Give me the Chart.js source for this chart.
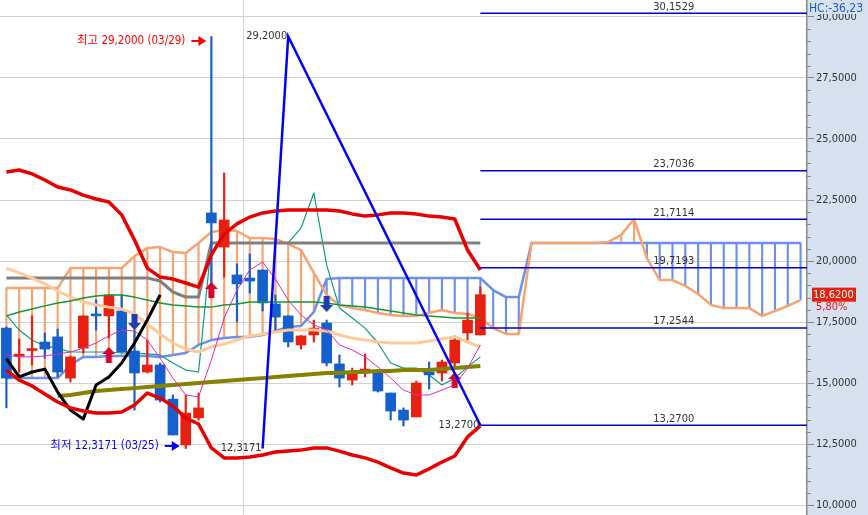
<!DOCTYPE html>
<html><head><meta charset="utf-8">
<script src="https://cdn.jsdelivr.net/npm/chart.js@4.4.1/dist/chart.umd.min.js"></script>
<style>html,body{margin:0;padding:0;background:#fff;overflow:hidden}canvas{display:block}</style>
</head><body>
<canvas id="c" width="868" height="515"></canvas>
<script>
const FONT = "'Liberation Sans Narrow','DejaVu Sans Condensed','Noto Sans CJK KR',sans-serif";

// ---- price candles (index 0..37) ----
const opens  = [17.25,16.10,16.33,16.68,16.89,15.20,16.43,17.77,17.75,17.95,16.31,15.45,15.74,14.34,12.46,13.57,21.97,20.57,19.43,19.30,19.63,18.24,17.75,16.56,16.97,17.46,15.78,15.12,15.45,15.53,14.59,13.89,13.61,15.45,15.41,15.82,17.05,16.97];
const highs  = [17.30,16.80,17.75,17.05,17.21,16.10,17.75,18.40,18.61,18.61,17.17,16.76,15.82,14.51,14.51,14.59,29.20,23.61,19.88,20.29,19.63,18.61,17.75,16.95,17.58,17.58,16.15,15.61,16.19,15.53,14.59,13.98,15.08,15.86,15.94,16.93,17.87,18.93];
const lows   = [13.98,15.45,15.74,16.02,15.25,15.04,16.23,17.17,16.84,16.27,13.89,15.41,14.22,12.87,12.3171,13.48,18.90,19.34,17.50,18.69,17.95,17.17,16.48,16.39,16.68,15.70,14.84,14.92,15.25,14.63,13.48,13.24,13.61,14.75,15.08,15.61,16.76,16.97];
const closes = [15.20,16.13,16.40,16.39,15.45,16.07,17.75,17.75,18.61,16.27,15.41,15.74,14.30,12.87,13.77,13.98,21.56,21.68,19.06,19.18,18.28,17.70,16.68,16.93,17.25,15.82,15.20,15.41,15.57,14.67,13.85,13.48,15.00,15.33,15.86,16.76,17.58,18.62];

// ---- Bollinger bands ----
const bbUpper = [23.65,23.73,23.57,23.32,23.03,22.91,22.70,22.54,22.42,21.89,20.86,19.71,19.34,19.26,19.10,18.93,20.25,21.11,21.52,21.80,21.97,22.05,22.09,22.09,22.09,22.09,22.05,21.93,21.84,21.89,21.97,21.97,21.93,21.84,21.80,21.72,20.45,19.63];
const bbLower = [15.53,15.12,14.88,14.55,14.22,13.98,13.85,13.77,13.77,13.81,14.10,14.59,14.38,14.06,13.57,13.32,12.34,11.93,11.93,11.97,12.05,12.17,12.21,12.25,12.34,12.34,12.21,12.05,11.93,11.76,11.52,11.31,11.23,11.48,11.76,12.01,12.79,13.24];

// ---- Ichimoku ----
const baseLine = [19.30,19.30,19.30,19.30,19.30,19.30,19.30,19.30,19.30,19.30,19.30,19.30,19.18,18.73,18.52,18.52,20.74,20.74,20.74,20.74,20.74,20.74,20.74,20.74,20.74,20.74,20.74,20.74,20.74,20.74,20.74,20.74,20.74,20.74,20.74,20.74,20.74,20.74];
const convLine = [17.79,17.17,16.76,16.52,16.43,16.27,16.27,16.27,16.27,16.23,16.23,16.19,16.15,15.82,15.53,15.45,20.74,20.74,20.74,20.74,20.74,20.74,20.74,21.35,22.79,19.84,18.07,17.66,17.25,16.64,15.82,15.61,15.61,15.33,14.92,15.20,15.66,16.07];
const spanA = [18.89,18.89,18.89,18.89,18.89,19.71,19.71,19.71,19.71,19.71,20.20,20.53,20.57,20.37,20.33,20.74,21.19,21.27,21.23,20.94,20.94,20.90,20.70,20.45,19.51,18.61,18.20,18.07,17.99,17.87,17.79,17.75,17.75,17.87,17.99,17.87,17.83,17.66,17.25,17.01,17.01,20.74,20.74,20.74,20.74,20.74,20.74,20.78,21.07,21.72,20.12,19.22,19.22,18.98,18.65,18.20,18.07,18.07,18.07,17.75,17.95,18.16,18.40];
const spanB = [15.20,15.20,15.20,15.20,15.20,15.74,16.07,16.07,16.11,16.11,16.11,16.11,16.07,16.15,16.23,16.56,16.76,16.84,16.89,16.89,16.97,17.13,17.30,17.34,17.91,19.26,19.30,19.30,19.30,19.30,19.30,19.30,19.30,19.30,19.30,19.30,19.30,19.30,18.81,18.52,18.52,20.74,20.74,20.74,20.74,20.74,20.74,20.74,20.74,20.74,20.74,20.74,20.74,20.74,20.74,20.74,20.74,20.74,20.74,20.74,20.74,20.74,20.74];
const lagging = [16.00,15.25,15.45,15.57,14.63,13.89,13.52,14.92,15.25,15.82,16.64,17.58,18.61];

// ---- moving averages ----
const maGreen   = [17.75,17.91,18.03,18.16,18.28,18.36,18.48,18.57,18.61,18.61,18.52,18.40,18.28,18.20,18.16,18.11,18.11,18.20,18.24,18.32,18.32,18.32,18.32,18.32,18.32,18.28,18.20,18.16,18.11,18.03,17.95,17.87,17.79,17.75,17.70,17.66,17.66,17.66];
const maMagenta = [16.15,16.07,16.07,16.11,16.19,16.27,16.43,16.64,16.93,17.17,17.13,16.76,16.02,15.20,14.51,14.43,15.94,17.66,18.81,19.63,19.96,19.26,18.40,17.79,17.38,17.17,16.56,16.35,16.07,15.66,15.20,14.71,14.51,14.51,14.71,14.92,15.61,16.56];
const maPeach   = [19.71,19.51,19.30,19.06,18.77,18.52,18.32,18.20,18.11,18.03,17.83,17.42,17.01,16.64,16.39,16.27,16.48,16.60,16.76,16.93,17.01,17.09,17.17,17.17,17.17,17.13,16.97,16.84,16.76,16.68,16.64,16.64,16.64,16.72,16.80,16.89,16.68,16.48];
const maOlive   = [null,null,null,null,14.47,14.51,14.59,14.67,14.71,14.75,14.79,14.84,14.88,14.92,14.96,15.00,15.04,15.08,15.12,15.16,15.20,15.25,15.29,15.33,15.37,15.41,15.41,15.45,15.45,15.49,15.49,15.53,15.53,15.53,15.57,15.61,15.66,15.70];

// ---- signals ----
const buyIdx  = [8, 16, 35];
const buyVal  = [16.15, 18.81, 15.12];
const sellIdx = [10, 25];
const sellVal = [17.50, 18.24];

// ---- pattern / fibonacci ----
const zigIdx = [20, 22, 37];
const zigVal = [12.3171, 29.20, 13.27];
const fibLevels = [30.1529, 23.7036, 21.7114, 19.7193, 17.2544, 13.27];
const fibStart = 37;
const fibLabelAt = 52.1;

// ---- annotations ----
const highMark = {idx:16, val:29.20, date:'03/29', label:'최고'};
const lowMark  = {idx:14, val:12.3171, date:'03/25', label:'최저'};
const lastPrice = 18.62;
const changePct = '5,80%';
const topTexts = ['LC:51,11', 'HC:-36,23'];

// ---- axis ----
const yMajorTicks = [10, 12.5, 15, 17.5, 20, 22.5, 25, 27.5, 30];
const Y_MIN = 9.5902, Y_MAX = 30.6967;
const X_MIN = -0.5, X_MAX = 62.5;
const monthBreak = 18.5;

const RED = '#e8200f', BLUE = '#1560cc';
const fmt4 = v => v.toFixed(4).replace('.', ',');

function makeArrow(color, up) {
  const c = document.createElement('canvas');
  c.width = 13; c.height = 16;
  const g = c.getContext('2d');
  g.fillStyle = color;
  g.beginPath();
  if (up) {
    g.moveTo(6.5, 0); g.lineTo(13, 7); g.lineTo(9.5, 7); g.lineTo(9.5, 16);
    g.lineTo(3.5, 16); g.lineTo(3.5, 7); g.lineTo(0, 7);
  } else {
    g.moveTo(6.5, 16); g.lineTo(13, 9); g.lineTo(9.5, 9); g.lineTo(9.5, 0);
    g.lineTo(3.5, 0); g.lineTo(3.5, 9); g.lineTo(0, 9);
  }
  g.closePath(); g.fill();
  return c;
}

const pts = (arr, start = 0) => arr.map((v, i) => v == null ? null : {x: i + start, y: v}).filter(Boolean);
const line = (label, arr, color, width, order, start = 0) => ({
  type: 'line', label, data: pts(arr, start), borderColor: color, borderWidth: width,
  pointRadius: 0, tension: 0, fill: false, order, borderJoinStyle: 'round', spanGaps: true
});

const hatch = spanA.map((a, i) => ({x: i, y: [Math.min(a, spanB[i]), Math.max(a, spanB[i])], up: a > spanB[i]}))
  .filter(d => Math.abs(d.y[1] - d.y[0]) > 0.001);

const datasets = [
  {type: 'bar', label: 'cloud', data: hatch, grouped: false, barThickness: 1.5,
   backgroundColor: c => c.raw && c.raw.up ? '#f7a470' : '#6d90ec', order: 20},
  line('spanA', spanA, '#f7a470', 2.5, 18),
  line('spanB', spanB, '#6d90ec', 2.5, 18),
  line('base', baseLine, '#808080', 3, 17),
  line('conv', convLine, '#0f9c84', 1.2, 17),
  {type: 'bar', label: 'wick', data: lows.map((l, i) => ({x: i, y: [l, highs[i]]})), grouped: false, barThickness: 1.5,
   backgroundColor: closes.map((c, i) => c >= opens[i] ? RED : BLUE), order: 15},
  {type: 'bar', label: 'body', data: opens.map((o, i) => ({x: i, y: [o, closes[i]]})), grouped: false, barThickness: 10, minBarLength: 2,
   backgroundColor: closes.map((c, i) => c >= opens[i] ? RED : BLUE), order: 14},
  line('peach', maPeach, '#ffc99a', 3, 12),
  line('olive', maOlive, '#858200', 4, 12),
  line('green', maGreen, '#159a35', 1.5, 11),
  line('magenta', maMagenta, '#e028b8', 1, 11),
  line('lagging', lagging, '#000000', 3, 10),
  line('bbUpper', bbUpper, '#e80000', 3.5, 9),
  line('bbLower', bbLower, '#e80000', 3.5, 9),
  {type: 'line', label: 'buy', data: buyIdx.map((x, i) => ({x, y: buyVal[i]})), showLine: false,
   pointStyle: makeArrow('#d8002c', true), pointRadius: 8, order: 6},
  {type: 'line', label: 'sell', data: sellIdx.map((x, i) => ({x, y: sellVal[i]})), showLine: false,
   pointStyle: makeArrow('#1e3cae', false), pointRadius: 8, order: 6},
  ...fibLevels.map(v => ({type: 'line', label: 'fib', data: [{x: fibStart, y: v}, {x: X_MAX, y: v}],
   borderColor: '#0000d0', borderWidth: 1.5, pointRadius: 0, order: 3})),
  {type: 'line', label: 'zig', data: zigIdx.map((x, i) => ({x, y: zigVal[i]})), borderColor: '#0000ff',
   borderWidth: 2.5, pointRadius: 0, tension: 0, order: 1}
];

const PANEL = '#d6e0ef';
const bgPlugin = {
  id: 'bg',
  beforeDraw(chart) {
    const {ctx, chartArea: a, width, height} = chart;
    ctx.save();
    ctx.fillStyle = '#fff'; ctx.fillRect(0, 0, width, height);
    ctx.fillStyle = PANEL; ctx.fillRect(a.right, 0, width - a.right, height);
    ctx.restore();
  },
  beforeDatasetsDraw(chart) {
    const {ctx, chartArea: a, scales: {x}} = chart;
    const px = Math.round(x.getPixelForValue(monthBreak)) + 0.5;
    ctx.save(); ctx.strokeStyle = '#d3d3d3'; ctx.lineWidth = 1;
    ctx.beginPath(); ctx.moveTo(px, a.top); ctx.lineTo(px, a.bottom); ctx.stroke(); ctx.restore();
  }
};

function arrowRight(ctx, tipX, y, color) {
  ctx.strokeStyle = color; ctx.fillStyle = color; ctx.lineWidth = 2;
  ctx.beginPath(); ctx.moveTo(tipX - 15, y); ctx.lineTo(tipX - 6, y); ctx.stroke();
  ctx.beginPath(); ctx.moveTo(tipX, y); ctx.lineTo(tipX - 8, y - 5); ctx.lineTo(tipX - 8, y + 5); ctx.closePath(); ctx.fill();
}

const overlayPlugin = {
  id: 'overlay',
  afterDraw(chart) {
    const {ctx, chartArea: a, scales: {x, y}, width} = chart;
    ctx.save();
    ctx.font = '11px ' + FONT;
    // minor ticks
    ctx.strokeStyle = '#8a8a8a'; ctx.lineWidth = 1;
    for (let v = 10; v <= 30.5; v += 0.5) {
      if (yMajorTicks.includes(v)) continue;
      const py = Math.round(y.getPixelForValue(v)) + 0.5;
      ctx.beginPath(); ctx.moveTo(a.right, py); ctx.lineTo(a.right + 4, py); ctx.stroke();
    }
    // fib labels
    ctx.fillStyle = '#333'; ctx.textAlign = 'center'; ctx.textBaseline = 'bottom';
    fibLevels.forEach(v => ctx.fillText(fmt4(v), x.getPixelForValue(fibLabelAt), y.getPixelForValue(v) - 1));
    // zigzag labels
    ctx.textAlign = 'right'; ctx.textBaseline = 'middle';
    zigIdx.forEach((i, k) => ctx.fillText(fmt4(zigVal[k]), x.getPixelForValue(i) - 1, y.getPixelForValue(zigVal[k])));
    // high / low annotations
    ctx.font = '11.5px ' + FONT;
    let tx = x.getPixelForValue(highMark.idx) - 5, ty = y.getPixelForValue(highMark.val) + 4.5;
    ctx.fillStyle = '#ff0000';
    ctx.fillText(highMark.label + ' ' + fmt4(highMark.val) + ' (' + highMark.date + ')', tx - 21, ty);
    arrowRight(ctx, tx, ty, '#ff0000');
    tx = x.getPixelForValue(lowMark.idx) - 6; ty = y.getPixelForValue(lowMark.val) - 2.5;
    ctx.fillStyle = '#0000ff';
    ctx.fillText(lowMark.label + ' ' + fmt4(lowMark.val) + ' (' + lowMark.date + ')', tx - 21, ty);
    arrowRight(ctx, tx, ty, '#0000ff');
    // price box
    ctx.font = '11px ' + FONT;
    const py = y.getPixelForValue(lastPrice);
    ctx.fillStyle = RED; ctx.fillRect(a.right + 5, py - 7, 44, 14);
    ctx.fillStyle = '#fff'; ctx.textAlign = 'left'; ctx.textBaseline = 'middle';
    ctx.fillText(fmt4(lastPrice), a.right + 6, py);
    ctx.fillStyle = '#f01010'; ctx.fillText(changePct, a.right + 9, py + 12.5);
    // top-right texts
    ctx.font = '12px ' + FONT;
    ctx.fillStyle = PANEL; ctx.fillRect(a.right + 1, 0, width - a.right, 14);
    ctx.fillStyle = '#ff0000'; ctx.fillText(topTexts[0], a.right + 2, -3);
    ctx.fillStyle = '#1a5cd6'; ctx.fillText(topTexts[1], a.right + 2, 9);
    ctx.restore();
  }
};

const chart = new Chart(document.getElementById('c'), {
  type: 'line',
  data: {datasets},
  options: {
    responsive: false, animation: false, devicePixelRatio: 1, events: [],
    layout: {padding: 0, autoPadding: false},
    plugins: {legend: {display: false}, tooltip: {enabled: false}},
    scales: {
      x: {type: 'linear', min: X_MIN, max: X_MAX, display: false, offset: false, grid: {offset: false}},
      y: {
        type: 'linear', position: 'right', min: Y_MIN, max: Y_MAX,
        afterBuildTicks(s) { s.ticks = yMajorTicks.map(v => ({value: v})); },
        afterFit(s) { s.width = 61; s.paddingTop = 0; s.paddingBottom = 0; },
        ticks: {padding: 2, color: '#333', autoSkip: false, font: {family: FONT, size: 11}, callback: v => fmt4(v)},
        grid: {color: '#d3d3d3', tickColor: '#8a8a8a', tickLength: 7, lineWidth: 1},
        border: {color: '#8a8a8a', width: 1.5}
      }
    }
  },
  plugins: [bgPlugin, overlayPlugin]
});
</script>
</body></html>
